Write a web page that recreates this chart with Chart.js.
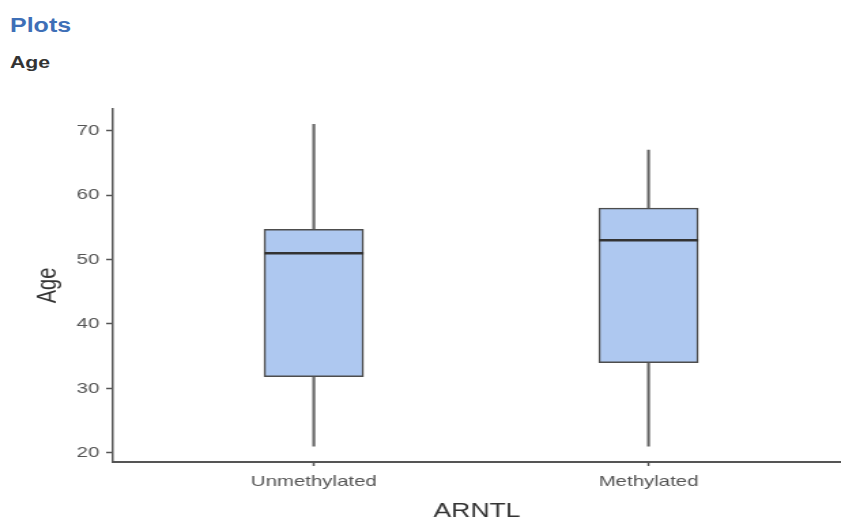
<!DOCTYPE html>
<html>
<head>
<meta charset="utf-8">
<script src="https://cdn.jsdelivr.net/npm/chart.js@4.4.1/dist/chart.umd.min.js"></script>
<style>
    body { margin: 0; background: #fff; width: 841px; height: 522px; overflow: hidden; font-family: "Liberation Sans", Arial, sans-serif; }
    .head { position: absolute; left: 10px; line-height: 1; font-weight: bold; white-space: nowrap; transform: scaleX(1.25); transform-origin: left top; }
    #plots { top: 15px; font-size: 20px; color: #3e6fb7; }
    #sub { top: 54px; font-size: 17px; color: #333; }
    #chart { position: absolute; left: 0; top: 95px; }
</style>
</head>
<body>
<div class="head" id="plots">Plots</div>
<div class="head" id="sub">Age</div>
<!-- the reference is stretched sideways, so draw narrow and widen with css -->
<canvas id="chart" width="618" height="427" style="width:841px;height:427px"></canvas>
<script>
const categories = ["Unmethylated", "Methylated"];
const whiskerLow = [21, 21];
const quartile1 = [31.8, 34];
const median = [51, 53];
const quartile3 = [54.7, 58];
const whiskerHigh = [71, 67];
const yTicks = [20, 30, 40, 50, 60, 70];

// boxes sit at x = 1, 2 on a linear axis
const positions = categories.map((c, i) => i + 1);

const axisGrey = "#555";
const tickFont = { family: "Liberation Sans", size: 15 };

new Chart(document.getElementById("chart"), {
    data: {
        datasets: [
            {
                type: "bar",
                data: positions.map((x, i) => ({ x: x, y: [whiskerLow[i], whiskerHigh[i]] })),
                backgroundColor: "#666",
                barThickness: 1.5,
                grouped: false,
                order: 3
            },
            {
                type: "bar",
                data: positions.map((x, i) => ({ x: x, y: [quartile1[i], quartile3[i]] })),
                backgroundColor: "#aec8f0",
                borderColor: "#4d4d4d",
                borderWidth: 1.5,
                borderSkipped: false,
                barThickness: 73,
                grouped: false,
                order: 2
            },
            {
                type: "scatter",
                data: positions.map((x, i) => ({ x: x, y: median[i] })),
                pointStyle: "line",
                pointRadius: 36.5,
                pointBorderColor: "#333",
                pointBorderWidth: 2.5,
                order: 1
            }
        ]
    },
    options: {
        responsive: false,
        animation: false,
        layout: { padding: 0, autoPadding: false },
        plugins: {
            legend: { display: false },
            tooltip: { enabled: false }
        },
        scales: {
            x: {
                type: "linear",
                offset: false,
                min: 0.4,
                max: 2.575,
                afterBuildTicks: s => { s.ticks = positions.map(v => ({ value: v })); },
                afterFit: s => { s.height = 60; },
                ticks: {
                    callback: v => categories[v - 1],
                    font: tickFont,
                    color: axisGrey,
                    padding: 7,
                    autoSkip: false,
                    maxRotation: 0
                },
                grid: { offset: false, drawOnChartArea: false, tickLength: 4, tickColor: axisGrey, tickWidth: 1.5 },
                border: { color: axisGrey, width: 2 },
                title: {
                    display: true,
                    text: "ARNTL",
                    color: "#333",
                    font: { family: "Liberation Sans", size: 19.5, lineHeight: 1 },
                    padding: { top: 0, bottom: 1 }
                }
            },
            y: {
                min: 18.56,
                max: 73.4,
                afterBuildTicks: s => { s.ticks = yTicks.map(v => ({ value: v })); },
                afterFit: s => { s.width = 83; },
                ticks: { font: tickFont, color: axisGrey, padding: 5 },
                grid: { drawOnChartArea: false, tickLength: 5, tickColor: axisGrey, tickWidth: 1.5 },
                border: { color: axisGrey, width: 1.5 },
                title: {
                    display: true,
                    text: "Age",
                    color: "#333",
                    font: { family: "Liberation Sans", size: 20, lineHeight: 1 },
                    padding: { top: 25, bottom: 0 }
                }
            }
        }
    }
});
</script>
</body>
</html>
